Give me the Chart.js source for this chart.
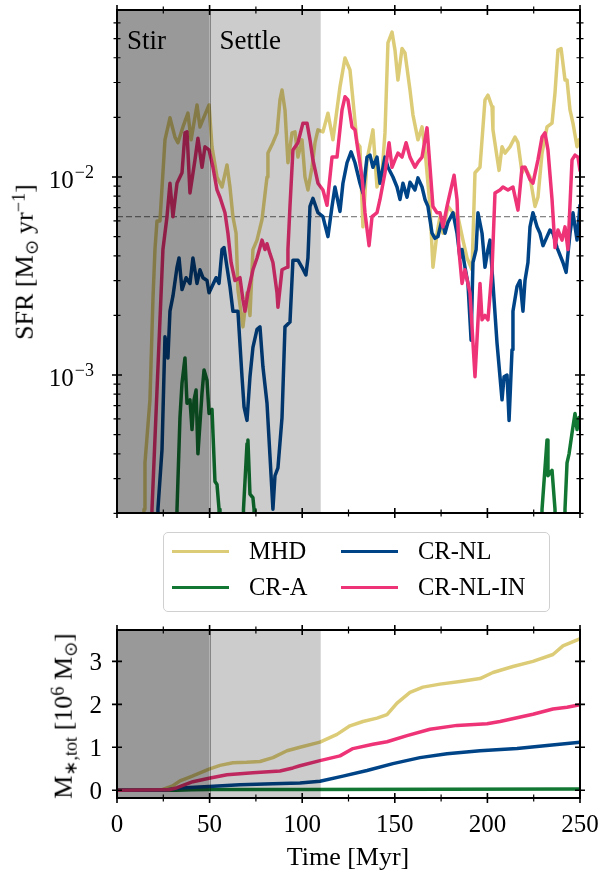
<!DOCTYPE html>
<html>
<head>
<meta charset="utf-8">
<script src="https://cdn.jsdelivr.net/npm/chart.js@4.4.1/dist/chart.umd.min.js"></script>
<style>
  body { margin: 0; width: 604px; height: 871px; position: relative; overflow: hidden; background: #fff; font-family: "Liberation Serif", serif; color: #000; }
  canvas { position: absolute; left: 0; }
  #sfrChart { top: 0; }
  #massChart { top: 600px; }
  .title { position: absolute; white-space: nowrap; font-size: 26px; line-height: 1.1; transform: translate(-50%, -50%); }
  .title.rot { transform: translate(-50%, -50%) rotate(-90deg); }
  .title sub, .title sup { font-size: 70%; line-height: 0; position: relative; vertical-align: baseline; }
  .title sub { top: 0.3em; }
  .title sup { top: -0.45em; }
  #legend { position: absolute; left: 163px; top: 532px; width: 385px; height: 78px; border: 1.5px solid #d0d0d0; border-radius: 5px; background: rgba(255,255,255,0.8); }
  #legend .swatch { position: absolute; width: 57px; height: 0; border-top: 3.5px solid; }
  #legend .label { position: absolute; font-size: 24.5px; line-height: 26px; white-space: nowrap; }
</style>
</head>
<body>
<canvas id="sfrChart" width="604" height="530"></canvas>
<canvas id="massChart" width="604" height="271"></canvas>
<div id="legend"></div>
<div class="title rot" style="left:25px; top:262px;">SFR [M<sub>⊙</sub> yr<sup>−1</sup>]</div>
<div class="title rot" style="left:64px; top:716px;">M<sub>∗,tot</sub> [10<sup>6</sup> M<sub>⊙</sub>]</div>
<div class="title" style="left:348px; top:857px;">Time [Myr]</div>
<script>
// ---- data ----
const names = ['MHD', 'CR-A', 'CR-NL', 'CR-NL-IN'];
const colors = ['#ddcc77', '#117733', '#004488', '#ee3377'];

const timeTicks = [0, 50, 100, 150, 200, 250];
const timeMinor = [25, 75, 125, 175, 225];
const sfrMajor = [1e-3, 1e-2];
const sfrMajorExp = ['−3', '−2'];
const sfrMinor = [2e-4, 3e-4, 4e-4, 5e-4, 6e-4, 7e-4, 8e-4, 9e-4,
  2e-3, 3e-3, 4e-3, 5e-3, 6e-3, 7e-3, 8e-3, 9e-3, 2e-2, 3e-2, 4e-2, 5e-2, 6e-2];
const massTicks = [0, 1, 2, 3];
const phases = [['Stir', 0, 50, 0.4], ['Settle', 50, 110, 0.2]];
const sfrReference = 0.0063;

// [time Myr, SFR Msun/yr]
const sfrMHD = [[0, 1e-4], [13.5, 1e-4], [14.6, 0.00021], [15.1, 0.00036], [17.8, 0.00075], [19.4, 0.0024],
  [20.5, 0.0043], [21.6, 0.0060], [23.2, 0.0060], [25.9, 0.0154], [28.6, 0.0199], [31.3, 0.0159],
  [32.9, 0.0149], [35.6, 0.0179], [38.3, 0.0210], [40, 0.0154], [43.2, 0.0231], [44.8, 0.0179],
  [47, 0.0201], [49.7, 0.0231], [51.3, 0.0142], [54, 0.0100], [56.7, 0.0089], [59.4, 0.0115],
  [61, 0.0089], [62.6, 0.0063], [64.3, 0.0052], [65.3, 0.0027], [68, 0.00175], [70.2, 0.0026],
  [71.8, 0.0020], [73.4, 0.0043], [75.6, 0.0048], [78.3, 0.0061], [81, 0.0100], [81.5, 0.0132],
  [84.2, 0.0149], [86.4, 0.0167], [88, 0.0245], [89.1, 0.0275], [90.7, 0.0218], [92.3, 0.0118],
  [94.5, 0.0167], [96.1, 0.0169], [97.7, 0.0126], [99.9, 0.0154], [101.5, 0.0100], [103.1, 0.0086],
  [105.3, 0.0112], [106.9, 0.0149], [108.5, 0.0173], [111.2, 0.0169], [113.9, 0.0210], [116.6, 0.0154],
  [120.4, 0.0285], [123.1, 0.0399], [125.8, 0.0347], [127.4, 0.0245], [129.6, 0.0149], [131.2, 0.0142],
  [132.8, 0.0056], [135, 0.0122], [138.2, 0.0173], [140.4, 0.0089], [143.1, 0.0105], [144.7, 0.0167],
  [146.3, 0.0475], [148.5, 0.0539], [150.1, 0.0437], [151.7, 0.0309], [153.9, 0.0445], [155.5, 0.0423],
  [158.2, 0.0275], [159.8, 0.0206], [162.5, 0.0154], [164.7, 0.0179], [166.3, 0.0137], [169, 0.0071],
  [170.6, 0.0035], [172.8, 0.0052], [174.4, 0.0063], [176, 0.0052], [178.7, 0.0071], [181.4, 0.0066],
  [184.1, 0.0063], [186.8, 0.0048], [189, 0.0039], [191.7, 0.0034], [193.3, 0.0105], [196, 0.0112],
  [198.7, 0.0245], [200.3, 0.0259], [202.5, 0.0226], [203, 0.0173], [205.2, 0.0126], [206.3, 0.0108],
  [207.9, 0.0142], [209.5, 0.0132], [212.2, 0.0142], [214.9, 0.0159], [216.5, 0.0149], [218.7, 0.0105],
  [220.3, 0.0112], [223, 0.0100], [225.7, 0.0071], [227.3, 0.0079], [229.5, 0.0132], [232.2, 0.0179],
  [234.9, 0.0187], [236.5, 0.0266], [238.1, 0.0437], [239.8, 0.0445], [241.9, 0.0309], [243, 0.0309],
  [244.6, 0.0218], [246.2, 0.0187], [248.4, 0.0142], [249.5, 0.0154], [250, 0.0150]];

const sfrCRA = [[0, 1e-4], [31.9, 1e-4], [32.4, 0.00021], [34, 0.00061], [35.1, 0.00091], [36.7, 0.00122],
  [37.8, 0.00072], [39.4, 0.00075], [40.5, 0.00053], [41.6, 0.00075], [42.7, 0.00084], [43.7, 0.00040],
  [45.9, 0.00081], [47, 0.00106], [48.6, 0.00094], [49.7, 0.00064], [51.3, 0.00067], [52.9, 0.00029],
  [54, 0.00028], [55.1, 0.00021], [55.6, 1e-4], [68, 1e-4], [68.3, 0.00021], [70.2, 0.00045],
  [70.7, 0.00047], [71.8, 0.00025], [73.4, 0.00024], [74, 0.00021], [74.5, 1e-4], [229, 1e-4],
  [229.5, 0.00021], [232.2, 0.00047], [232.7, 0.00031], [234.9, 0.00033], [236.5, 0.00021], [237, 1e-4],
  [241.4, 1e-4], [241.9, 0.00021], [243, 0.00036], [244.1, 0.00040], [245.7, 0.00051], [247.3, 0.00064],
  [248.4, 0.00053], [249.5, 0.00061], [250, 0.00059]];

const sfrCRNL = [[0, 1e-4], [21.6, 1e-4], [22.1, 0.00021], [24.3, 0.00042], [25.9, 0.00156], [27.5, 0.00122],
  [28.6, 0.0021], [30.2, 0.0025], [32.4, 0.0035], [33.5, 0.0039], [35.1, 0.0027], [37.3, 0.0031],
  [39.4, 0.0029], [41, 0.0039], [43.2, 0.0029], [44.8, 0.0034], [46.4, 0.0031], [48.6, 0.0030],
  [49.7, 0.0026], [51.3, 0.0028], [53.5, 0.0031], [55.1, 0.0029], [56.7, 0.0043], [57.8, 0.0044],
  [59.4, 0.0035], [61, 0.0028], [62.6, 0.0021], [65.3, 0.0021], [67.5, 0.00098], [68.6, 0.00069],
  [70.2, 0.00059], [71.8, 0.00098], [73.4, 0.00138], [75.6, 0.0017], [77.2, 0.00175], [78.8, 0.0011],
  [81, 0.00072], [82.6, 0.00039], [84.2, 0.00021], [85.3, 0.00031], [86.9, 0.00034], [89.1, 0.00061],
  [90.7, 0.00175], [93.4, 0.00185], [95, 0.0038], [97.7, 0.0038], [99.9, 0.0035], [102, 0.0032],
  [103.1, 0.0039], [104.2, 0.0071], [105.8, 0.0078], [108.5, 0.0066], [111.2, 0.0063], [113.9, 0.0050],
  [116.1, 0.0071], [117.7, 0.0089], [120.4, 0.0067], [122, 0.0093], [124.2, 0.0118], [126.4, 0.0134],
  [128.5, 0.0118], [131.2, 0.0093], [132.8, 0.0083], [135, 0.0126], [136.6, 0.0129], [138.2, 0.0112],
  [140.4, 0.0126], [142, 0.0093], [144.7, 0.0126], [146.3, 0.0112], [149, 0.0100], [151.2, 0.0089],
  [152.8, 0.0077], [154.4, 0.0093], [156.6, 0.0079], [158.2, 0.0094], [160.9, 0.0086], [162.5, 0.0099],
  [164.7, 0.0089], [166.3, 0.0077], [167.9, 0.0071], [170.1, 0.0052], [171.7, 0.0049], [173.3, 0.0050],
  [175.5, 0.0061], [177.1, 0.0052], [178.7, 0.0059], [181.4, 0.0066], [183.6, 0.0052], [185.2, 0.0039],
  [186.3, 0.0043], [187.9, 0.0035], [189.5, 0.0029], [191.2, 0.0015], [192.2, 0.0037], [193.9, 0.0043],
  [194.9, 0.0066], [197.1, 0.0052], [198.7, 0.0035], [200.3, 0.0043], [201.4, 0.0048], [203, 0.0029],
  [205.2, 0.00145], [206.8, 0.00098], [207.9, 0.00075], [209, 0.00098], [210.6, 0.0010], [211.7, 0.00059],
  [213.3, 0.00134], [213.8, 0.0021], [216, 0.0028], [217.6, 0.0030], [219.2, 0.0021], [220.3, 0.0030],
  [221.9, 0.0037], [223, 0.0056], [224.6, 0.0066], [226.8, 0.0056], [228.4, 0.0052], [230, 0.0045],
  [232.2, 0.0050], [233.8, 0.0054], [235.4, 0.0052], [237.6, 0.0044], [240.8, 0.0037], [242.5, 0.0033],
  [244.6, 0.0052], [246.2, 0.0066], [248.4, 0.0048], [250, 0.0072]];

const sfrCRNLIN = [[0, 1e-4], [18.4, 1e-4], [18.9, 0.00021], [24.8, 0.0043], [27, 0.0063], [28.6, 0.0093],
  [30.2, 0.0063], [32.4, 0.0093], [35.1, 0.0105], [36.7, 0.0167], [37.8, 0.0169], [39.4, 0.0083],
  [42.1, 0.0122], [43.7, 0.0157], [45.9, 0.0112], [47.5, 0.0142], [49.7, 0.0137], [51.8, 0.0112],
  [54, 0.0086], [55.6, 0.0079], [58.3, 0.0066], [59.9, 0.0052], [61.6, 0.0037], [63.7, 0.0030],
  [66.4, 0.0031], [68, 0.0024], [69.1, 0.0021], [70.7, 0.0026], [73.4, 0.0034], [75.6, 0.0039],
  [78.3, 0.0048], [79.9, 0.0043], [81, 0.0046], [82.6, 0.0041], [84.2, 0.0037], [86.4, 0.0026],
  [86.9, 0.0022], [89.1, 0.0034], [91.8, 0.0035], [92.3, 0.0043], [93.4, 0.0071], [95, 0.0137],
  [97.7, 0.0149], [100.4, 0.0187], [102.6, 0.0187], [104.2, 0.0154], [105.8, 0.0122], [108.5, 0.0093],
  [111.2, 0.0086], [113.4, 0.0072], [116.1, 0.0126], [118.8, 0.0126], [121.5, 0.0218], [123.1, 0.0254],
  [124.7, 0.0245], [126.9, 0.0179], [128.5, 0.0173], [130.1, 0.0137], [132.3, 0.0100], [133.9, 0.0066],
  [136.1, 0.0045], [137.7, 0.0063], [140.4, 0.0066], [142, 0.0077], [144.7, 0.0105], [146.9, 0.0149],
  [148.5, 0.0112], [150.1, 0.0122], [151.7, 0.0132], [153.9, 0.0126], [156.1, 0.0149], [158.2, 0.0126],
  [160.9, 0.0112], [162.5, 0.0119], [164.7, 0.0126], [167.4, 0.0177], [169, 0.0112], [170.6, 0.0071],
  [172.8, 0.0066], [174.4, 0.0066], [176, 0.0056], [178.2, 0.0071], [179.8, 0.0083], [182, 0.0102],
  [183.6, 0.0077], [184.6, 0.0043], [186.3, 0.0029], [187.9, 0.0034], [190.6, 0.0026], [193.3, 0.00098],
  [196, 0.0029], [197.1, 0.0019], [198.7, 0.0020], [200.3, 0.0019], [202.5, 0.0034], [204.1, 0.0083],
  [206.8, 0.0086], [208.4, 0.0089], [211.1, 0.0086], [213.8, 0.0089], [216.5, 0.0068], [218.7, 0.0112],
  [220.3, 0.0112], [223, 0.0097], [224.6, 0.0093], [227.3, 0.0122], [229.5, 0.0159], [231.1, 0.0167],
  [232.7, 0.0137], [234.9, 0.0077], [236.5, 0.0044], [238.1, 0.0054], [240.3, 0.0048], [241.9, 0.0056],
  [243.5, 0.0043], [245.7, 0.0122], [247.3, 0.0129], [248.9, 0.0126], [250, 0.0108]];

// [time Myr, M*,tot in 1e6 Msun]
const massMHD = [[0, 0], [24, 0.01], [30, 0.1], [34, 0.22], [40, 0.32], [49.7, 0.49], [55.6, 0.58],
  [62.6, 0.64], [70, 0.65], [77.2, 0.67], [84.2, 0.76], [91.8, 0.92], [98.8, 1.0], [109.6, 1.12],
  [118.8, 1.3], [125.8, 1.5], [132.8, 1.6], [140.4, 1.68], [145.8, 1.76], [151.2, 2.03], [158.2, 2.28],
  [165.2, 2.4], [174.4, 2.47], [185.2, 2.53], [196, 2.6], [203, 2.74], [213.8, 2.88], [224.6, 3.0],
  [235.4, 3.16], [240.8, 3.36], [249.5, 3.52], [250, 3.53]];
const massCRA = [[0, 0], [32, 0.0], [40, 0.01], [50, 0.015], [100, 0.02], [250, 0.03]];
const massCRNL = [[0, 0], [26, 0.005], [34, 0.05], [49.7, 0.09], [66.4, 0.13], [84.2, 0.15], [98.8, 0.17],
  [109.6, 0.21], [122, 0.33], [135, 0.46], [149, 0.62], [163.6, 0.76], [178.2, 0.85], [196, 0.92],
  [216, 0.97], [232.2, 1.04], [250, 1.12]];
const massCRNLIN = [[0, 0], [28, 0.01], [32.4, 0.06], [41, 0.2], [49.7, 0.28], [59.4, 0.36], [73.4, 0.41],
  [88, 0.45], [95, 0.52], [98.8, 0.57], [109.6, 0.69], [120.4, 0.8], [127.4, 0.97], [138.2, 1.07],
  [145.8, 1.13], [156.6, 1.27], [169, 1.42], [183.6, 1.51], [199.8, 1.55], [206.8, 1.6], [224.6, 1.77],
  [235.4, 1.89], [243, 1.93], [250, 1.99]];

const FONT = '"Liberation Serif", serif';
const toXY = pairs => pairs.map(([x, y]) => ({ x, y }));

// shading, frame, in-out ticks and tick labels, drawn on top of the lines like matplotlib's axvspan
const panelPlugin = {
    id: 'panel',
    afterDatasetsDraw(chart, args, opts) {
        const { ctx, chartArea: a, scales: { x, y } } = chart;
        ctx.save();
        phases.forEach(([name, t0, t1, alpha]) => {
            const x0 = x.getPixelForValue(t0), x1 = x.getPixelForValue(t1);
            ctx.fillStyle = `rgba(0,0,0,${alpha})`;
            ctx.fillRect(x0, a.top, x1 - x0, a.bottom - a.top);
        });
        ctx.strokeStyle = 'rgba(0,0,0,0.35)';
        ctx.lineWidth = 1;
        const xs = Math.round(x.getPixelForValue(50)) + 0.5;
        ctx.beginPath(); ctx.moveTo(xs, a.top); ctx.lineTo(xs, a.bottom); ctx.stroke();

        if (opts.phaseText) {
            ctx.fillStyle = '#000';
            ctx.font = `27px ${FONT}`;
            ctx.textAlign = 'left';
            ctx.textBaseline = 'alphabetic';
            phases.forEach(([name, t0]) => ctx.fillText(name, x.getPixelForValue(t0) + 10, a.top + 39));
        }

        ctx.strokeStyle = '#000';
        ctx.lineWidth = 2;
        ctx.strokeRect(a.left, a.top, a.right - a.left, a.bottom - a.top);

        const xTick = (v, len, w) => {
            const p = x.getPixelForValue(v);
            ctx.lineWidth = w;
            ctx.beginPath();
            ctx.moveTo(p, a.bottom - len); ctx.lineTo(p, a.bottom + len);
            ctx.moveTo(p, a.top - len); ctx.lineTo(p, a.top + len);
            ctx.stroke();
        };
        const yTick = (v, len, w) => {
            const p = y.getPixelForValue(v);
            ctx.lineWidth = w;
            ctx.beginPath();
            ctx.moveTo(a.left - len, p); ctx.lineTo(a.left + len, p);
            ctx.moveTo(a.right - len, p); ctx.lineTo(a.right + len, p);
            ctx.stroke();
        };
        timeTicks.forEach(v => xTick(v, 5, 1.6));
        timeMinor.forEach(v => xTick(v, 3.5, 1.2));
        opts.yMajor.forEach(v => yTick(v, 5, 1.6));
        (opts.yMinor || []).forEach(v => yTick(v, 3.5, 1.2));

        ctx.fillStyle = '#000';
        ctx.textBaseline = 'alphabetic';
        if (opts.xLabels) {
            ctx.font = `25px ${FONT}`;
            ctx.textAlign = 'center';
            timeTicks.forEach(v => ctx.fillText(String(v), x.getPixelForValue(v), a.bottom + 34));
        }
        if (opts.yExp) {
            opts.yMajor.forEach((v, i) => {
                const p = y.getPixelForValue(v);
                ctx.textAlign = 'right';
                ctx.font = `18px ${FONT}`;
                ctx.fillText(opts.yExp[i], a.left - 23, p + 1);
                const w = ctx.measureText(opts.yExp[i]).width;
                ctx.font = `25px ${FONT}`;
                ctx.fillText('10', a.left - 24 - w, p + 11);
            });
        } else {
            ctx.font = `25px ${FONT}`;
            ctx.textAlign = 'right';
            opts.yMajor.forEach(v => ctx.fillText(String(v), a.left - 15, y.getPixelForValue(v) + 8.5));
        }
        ctx.restore();
    }
};

function lineSet(label, pairs, color, order) {
    return {
        label, data: toXY(pairs), borderColor: color, backgroundColor: color,
        borderWidth: 3.5, pointRadius: 0, tension: 0, fill: false, clip: 0, order,
        borderJoinStyle: 'round', borderCapStyle: 'round'
    };
}

const sfrSeries = [sfrMHD, sfrCRA, sfrCRNL, sfrCRNLIN];
const massSeries = [massMHD, massCRA, massCRNL, massCRNLIN];

const common = {
    responsive: false,
    animation: false,
    events: [],
    plugins: { legend: { display: false }, tooltip: { enabled: false } }
};

const sfrCtx = document.getElementById('sfrChart').getContext('2d');
new Chart(sfrCtx, {
    type: 'line',
    data: {
        datasets: [
            ...sfrSeries.map((s, i) => lineSet(names[i], s, colors[i], 4 - i)),
            {
                label: 'reference', data: toXY([[0, sfrReference], [250, sfrReference]]),
                borderColor: '#666666', borderWidth: 1, borderDash: [6, 3], pointRadius: 0, clip: 0, order: 5
            }
        ]
    },
    options: {
        ...common,
        layout: { padding: { left: 117, top: 10, right: 24, bottom: 17 } },
        plugins: { ...common.plugins, panel: { yMajor: sfrMajor, yMinor: sfrMinor, yExp: sfrMajorExp, phaseText: true } },
        scales: {
            x: { type: 'linear', min: 0, max: 250, display: false },
            y: { type: 'logarithmic', min: 2.01e-4, max: 0.0697, display: false }
        }
    },
    plugins: [panelPlugin]
});

const massCtx = document.getElementById('massChart').getContext('2d');
new Chart(massCtx, {
    type: 'line',
    data: { datasets: massSeries.map((s, i) => lineSet(names[i], s, colors[i], 4 - i)) },
    options: {
        ...common,
        layout: { padding: { left: 117, top: 30, right: 24, bottom: 73 } },
        plugins: { ...common.plugins, panel: { yMajor: massTicks, xLabels: true } },
        scales: {
            x: { type: 'linear', min: 0, max: 250, display: false },
            y: { type: 'linear', min: -0.18, max: 3.73, display: false }
        }
    },
    plugins: [panelPlugin]
});

// legend, two columns filled column by column
const legend = document.getElementById('legend');
names.forEach((name, i) => {
    const col = Math.floor(i / 2), row = i % 2;
    const sw = document.createElement('div');
    sw.className = 'swatch';
    sw.style.borderColor = colors[i];
    sw.style.left = (8 + col * 169) + 'px';
    sw.style.top = (17 + row * 36) + 'px';
    const lb = document.createElement('div');
    lb.className = 'label';
    lb.textContent = name;
    lb.style.left = (85 + col * 169) + 'px';
    lb.style.top = (5 + row * 36) + 'px';
    legend.appendChild(sw);
    legend.appendChild(lb);
});
</script>
</body>
</html>
